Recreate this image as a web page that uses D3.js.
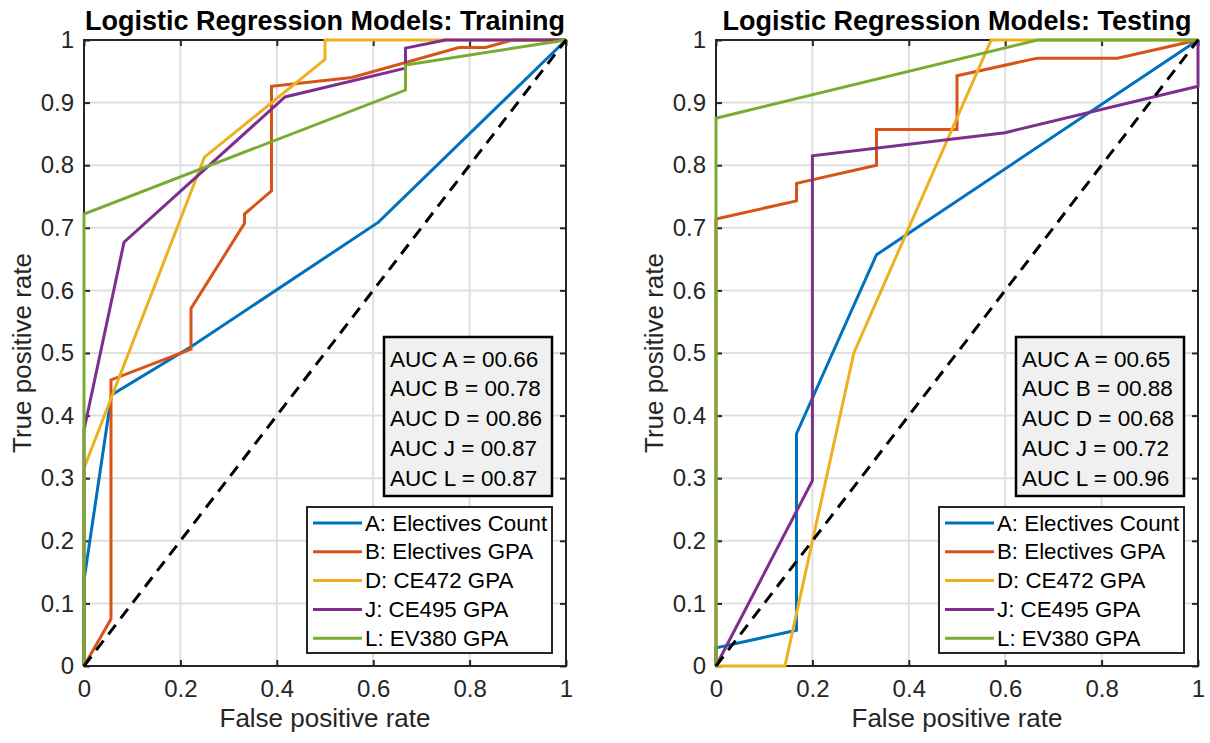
<!DOCTYPE html>
<html>
<head>
<meta charset="utf-8">
<script src="https://cdn.jsdelivr.net/npm/d3@7"></script>
<style>
  body { margin: 0; background: #fff; }
  svg { display: block; }
  text { font-family: "Liberation Sans", Arial, Helvetica, sans-serif; fill: #262626; }
</style>
</head>
<body>
<svg id="chart" width="1210" height="743"></svg>
<script>
// ─── DATA ─────────────────────────────────────────────────────────────────────
// ROC points, one row per model (A, B, D, J, L)
const legendLabels = ['A: Electives Count', 'B: Electives GPA', 'D: CE472 GPA', 'J: CE495 GPA', 'L: EV380 GPA'];
const aucNames = ['A', 'B', 'D', 'J', 'L'];

const trainFpr = [
  [0, 0, 0.057, 0.222, 0.611, 1],
  [0, 0.056, 0.056, 0.222, 0.222, 0.333, 0.333, 0.389, 0.389, 0.556, 0.778, 0.833, 0.889, 1],
  [0, 0, 0.25, 0.5, 0.5, 1],
  [0, 0, 0.083, 0.417, 0.667, 0.667, 0.75, 1],
  [0, 0, 0.667, 0.667, 1],
];
const trainTpr = [
  [0, 0.137, 0.433, 0.51, 0.709, 1],
  [0, 0.075, 0.457, 0.506, 0.571, 0.707, 0.722, 0.759, 0.926, 0.94, 0.988, 0.988, 1, 1],
  [0, 0.316, 0.813, 0.969, 1, 1],
  [0, 0.377, 0.677, 0.909, 0.955, 0.987, 1, 1],
  [0, 0.722, 0.92, 0.96, 1],
];
const testFpr = [
  [0, 0, 0.167, 0.167, 0.333, 1],
  [0, 0, 0.167, 0.167, 0.333, 0.333, 0.5, 0.5, 0.667, 0.833, 1],
  [0, 0.143, 0.286, 0.571, 1],
  [0, 0.2, 0.2, 0.6, 1, 1],
  [0, 0, 0.667, 1],
];
const testTpr = [
  [0, 0.029, 0.057, 0.371, 0.657, 1],
  [0, 0.714, 0.743, 0.771, 0.8, 0.857, 0.857, 0.943, 0.971, 0.971, 1],
  [0, 0, 0.5, 1, 1],
  [0, 0.296, 0.815, 0.852, 0.926, 1],
  [0, 0.875, 1, 1],
];
const trainAuc = ['00.66', '00.78', '00.86', '00.87', '00.87'];
const testAuc  = ['00.65', '00.88', '00.68', '00.72', '00.96'];

const xTicks = [0, 0.2, 0.4, 0.6, 0.8, 1];
const yTicks = [0, 0.1, 0.2, 0.3, 0.4, 0.5, 0.6, 0.7, 0.8, 0.9, 1];
// ──────────────────────────────────────────────────────────────────────────────

const colors = ['#0072BD', '#D95319', '#EDB120', '#7E2F8E', '#77AC30'];
const axisColor = '#262626';
const gridColor = '#dfdfdf';

const panels = [
  { title: 'Logistic Regression Models: Training', fpr: trainFpr, tpr: trainTpr, auc: trainAuc, left: 84 },
  { title: 'Logistic Regression Models: Testing',  fpr: testFpr,  tpr: testTpr,  auc: testAuc,  left: 716 },
];

const plotTop = 40, plotBottom = 666, plotW = 482;
const svg = d3.select('#chart');

const fmt = (d) => (d === 0 || d === 1 ? String(d) : d3.format('.1f')(d));

panels.forEach((p) => {
  const x = d3.scaleLinear().domain([0, 1]).range([p.left, p.left + plotW]);
  const y = d3.scaleLinear().domain([0, 1]).range([plotBottom, plotTop]);
  const g = svg.append('g');

  // grid
  g.selectAll('line.gx').data(xTicks).join('line')
    .attr('class', 'gx')
    .attr('x1', (d) => x(d)).attr('x2', (d) => x(d))
    .attr('y1', plotTop).attr('y2', plotBottom)
    .attr('stroke', gridColor).attr('stroke-width', 2);
  g.selectAll('line.gy').data(yTicks).join('line')
    .attr('class', 'gy')
    .attr('y1', (d) => y(d)).attr('y2', (d) => y(d))
    .attr('x1', x(0)).attr('x2', x(1))
    .attr('stroke', gridColor).attr('stroke-width', 2);

  // axes box with inward ticks on all sides
  g.append('rect')
    .attr('x', x(0)).attr('y', plotTop)
    .attr('width', plotW).attr('height', plotBottom - plotTop)
    .attr('fill', 'none').attr('stroke', axisColor).attr('stroke-width', 2);

  const tl = 6;
  const axB = g.append('g').attr('transform', `translate(0,${plotBottom})`)
    .call(d3.axisBottom(x).tickValues(xTicks).tickFormat(fmt).tickSizeInner(-tl).tickSizeOuter(0).tickPadding(14));
  const axT = g.append('g').attr('transform', `translate(0,${plotTop})`)
    .call(d3.axisTop(x).tickValues(xTicks).tickFormat('').tickSizeInner(-tl).tickSizeOuter(0));
  const axL = g.append('g').attr('transform', `translate(${x(0)},0)`)
    .call(d3.axisLeft(y).tickValues(yTicks).tickFormat(fmt).tickSizeInner(-tl).tickSizeOuter(0).tickPadding(10));
  const axR = g.append('g').attr('transform', `translate(${x(1)},0)`)
    .call(d3.axisRight(y).tickValues(yTicks).tickFormat('').tickSizeInner(-tl).tickSizeOuter(0));
  [axB, axT, axL, axR].forEach((a) => {
    a.select('.domain').remove();
    a.selectAll('.tick line').attr('stroke', axisColor).attr('stroke-width', 2);
    a.selectAll('.tick text')
      .attr('fill', axisColor)
      .style('font-size', '24px')
      .style('font-family', '"Liberation Sans", Arial, sans-serif');
  });
  axB.selectAll('.tick text').attr('dy', '0.72em');

  // ROC curves (drawn over the axes box, like the original)
  const line = d3.line().x((d) => x(d[0])).y((d) => y(d[1]));
  p.fpr.forEach((xs, i) => {
    const pts = xs.map((v, j) => [v, p.tpr[i][j]]);
    g.append('path').datum(pts)
      .attr('d', line)
      .attr('fill', 'none')
      .attr('stroke', colors[i])
      .attr('stroke-width', 3)
      .attr('stroke-linejoin', 'miter');
  });

  // chance line
  g.append('path').datum([[0, 0], [1, 1]])
    .attr('d', line)
    .attr('fill', 'none')
    .attr('stroke', '#000')
    .attr('stroke-width', 3)
    .attr('stroke-dasharray', '12,8');

  // title & labels
  g.append('text')
    .attr('x', x(0.5)).attr('y', 30)
    .attr('text-anchor', 'middle')
    .style('font-size', '27px').style('font-weight', 'bold')
    .style('fill', '#000')
    .text(p.title);
  g.append('text')
    .attr('x', x(0.5)).attr('y', 727)
    .attr('text-anchor', 'middle')
    .style('font-size', '26px')
    .text('False positive rate');
  g.append('text')
    .attr('transform', `translate(${p.left - 53},${(plotTop + plotBottom) / 2}) rotate(-90)`)
    .attr('text-anchor', 'middle')
    .style('font-size', '26px')
    .text('True positive rate');

  // AUC box
  const right = x(1) - 14;
  const aucW = 168, aucH = 159, aucTop = 337;
  g.append('rect')
    .attr('x', right - aucW).attr('y', aucTop)
    .attr('width', aucW).attr('height', aucH)
    .attr('fill', '#f0f0f0').attr('stroke', '#000').attr('stroke-width', 2.5);
  g.selectAll('text.auc').data(p.auc).join('text')
    .attr('class', 'auc')
    .attr('x', right - aucW + 6)
    .attr('y', (d, i) => aucTop + 22 + i * 29.8)
    .attr('dominant-baseline', 'central')
    .style('font-size', '22.5px')
    .style('fill', '#000')
    .text((d, i) => `AUC ${aucNames[i]} = ${d}`);

  // legend
  const legW = 245, legH = 146, legTop = 507;
  const legLeft = right - legW;
  g.append('rect')
    .attr('x', legLeft).attr('y', legTop)
    .attr('width', legW).attr('height', legH)
    .attr('fill', '#fff').attr('stroke', axisColor).attr('stroke-width', 2);
  const rows = g.selectAll('g.leg').data(legendLabels).join('g')
    .attr('class', 'leg')
    .attr('transform', (d, i) => `translate(${legLeft},${legTop + 16 + i * 28.8})`);
  rows.append('line')
    .attr('x1', 6).attr('x2', 55)
    .attr('stroke', (d, i) => colors[i]).attr('stroke-width', 3);
  rows.append('text')
    .attr('x', 58).attr('dominant-baseline', 'central')
    .style('font-size', '22.3px')
    .style('fill', '#000')
    .text((d) => d);
});
</script>
</body>
</html>
